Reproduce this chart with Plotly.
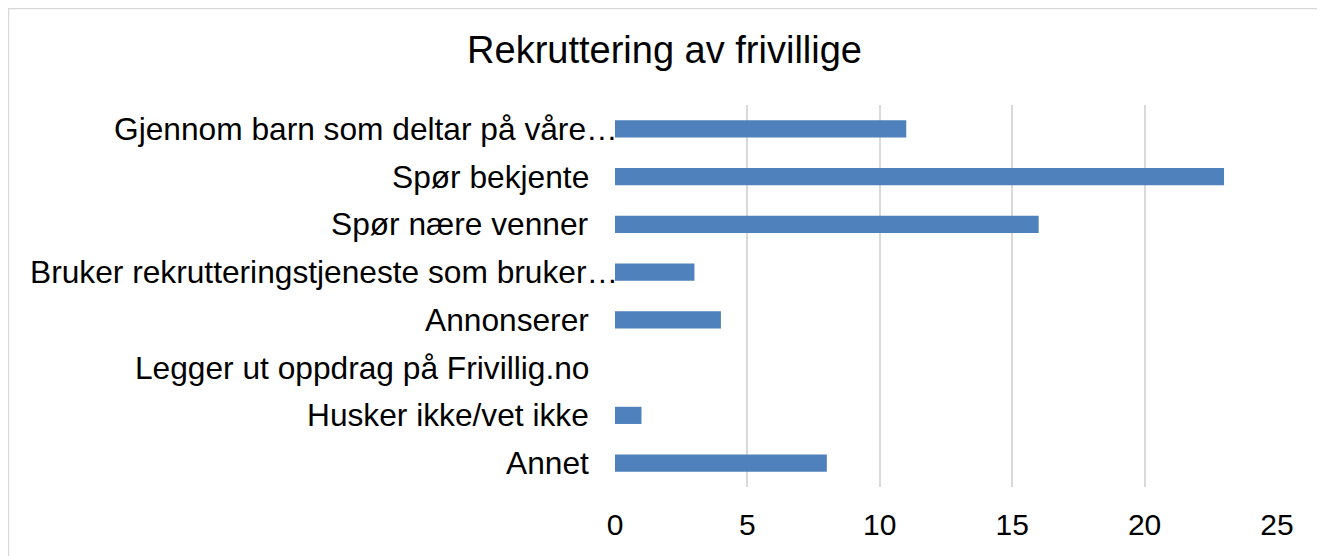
import plotly.graph_objects as go

categories = [
    "Gjennom barn som deltar på våre…",
    "Spør bekjente",
    "Spør nære venner",
    "Bruker rekrutteringstjeneste som bruker…",
    "Annonserer",
    "Legger ut oppdrag på Frivillig.no",
    "Husker ikke/vet ikke",
    "Annet",
]
counts = [11, 23, 16, 3, 4, 0, 1, 8]
x_ticks = [0, 5, 10, 15, 20, 25]

FONT = "Liberation Sans, Arial, sans-serif"

# figure sits 8px in from the page corner (body margin)
W, H = 1317, 548
L, R, T, B = 607, 48, 97, 69
PW, PH = W - L - R, H - T - B

fig = go.Figure(
    go.Bar(
        x=counts,
        y=categories,
        orientation="h",
        marker=dict(color="#4f81bd", line=dict(width=0)),
    )
)

# category labels as annotations so truncated ones can sit closer to the axis
for cat in categories:
    fig.add_annotation(
        x=0,
        y=cat,
        xref="x",
        yref="y",
        text=cat,
        showarrow=False,
        xanchor="right",
        xshift=5 if cat.endswith("…") else -24,
        font=dict(family=FONT, size=31.7, color="#000000"),
    )

fig.update_layout(
    title=dict(
        text="Rekruttering av frivillige",
        x=0.4985,
        xref="container",
        xanchor="center",
        y=0.923,
        yref="container",
        yanchor="middle",
        font=dict(family=FONT, size=38, color="#000000"),
    ),
    width=W,
    height=H,
    margin=dict(l=L, r=R, t=T, b=B),
    plot_bgcolor="white",
    paper_bgcolor="white",
    bargap=0.64,
    showlegend=False,
    xaxis=dict(
        range=[0, 25],
        tickvals=x_ticks,
        showgrid=True,
        gridcolor="#d9d9d9",
        gridwidth=1.5,
        zeroline=False,
        showline=False,
        ticks="",
        ticklabelstandoff=17,
        tickfont=dict(family=FONT, size=30, color="#000000"),
    ),
    yaxis=dict(
        autorange="reversed",
        showticklabels=False,
        showgrid=False,
        zeroline=False,
        showline=False,
        ticks="",
    ),
)

# outer chart frame
fig.add_shape(
    type="rect",
    xref="paper",
    yref="paper",
    x0=(0.5 - L) / PW,
    x1=(1314 - L) / PW,
    y0=-(B + 40) / PH,
    y1=1 + (T - 0.5) / PH,
    line=dict(color="#d9d9d9", width=1.5),
    fillcolor="rgba(0,0,0,0)",
)

fig.write_html("out.html")
